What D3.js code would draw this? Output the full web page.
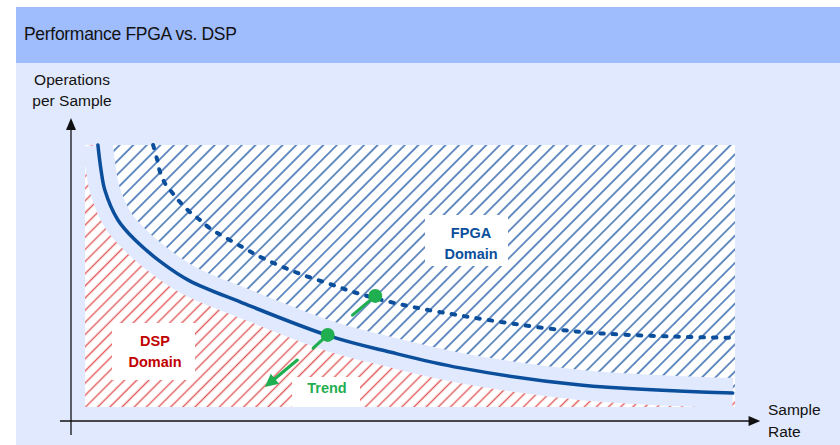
<!DOCTYPE html>
<html>
<head>
<meta charset="utf-8">
<script src="https://cdn.jsdelivr.net/npm/d3@7"></script>
<style>
  html, body { margin: 0; padding: 0; background: #ffffff; }
  svg { display: block; font-family: "Liberation Sans", Arial, sans-serif; }
</style>
</head>
<body>
<div id="chart"></div>
<script>
// Sample rate (x) vs. operations per sample (y), relative units 0..100
const dspLimitRate = [3.9, 4.35, 4.9, 6.8, 9.3, 13.2, 17.2, 24.5, 37.5, 46.2, 56.4, 73.8, 95.9];
const dspLimitOps  = [92, 83.7, 77, 67, 60.3, 52.7, 46.7, 39.7, 28.3, 23, 17.7, 12, 9.3];

const fpgaLimitRate = [11.9, 12.5, 12.9, 13.6, 14.7, 15.9, 17.2, 18.7, 20.1, 24.8, 27.8, 32.9, 38, 40.9, 46.2, 53.5, 73.8, 95.9];
const fpgaLimitOps  = [92, 87, 83, 79.3, 76, 72.7, 69.7, 67, 64.3, 58, 54.3, 49.3, 45.3, 43, 39.7, 36.3, 29.7, 27.7];

// Trend markers: dot on each limit curve with a short stem pointing down-left
const trendDots  = [[44.1, 41.7], [37.2, 28.7]];
const trendStems = [[40.8, 35.3], [35.1, 24.3]];
const trendArrow = [[32.8, 20.3], [28.1, 11.3]];

const titleText = "Performance FPGA vs. DSP";
const yAxisLabel = ["Operations", "per Sample"];
const xAxisLabel = ["Sample", "Rate"];
const fpgaLabel = ["FPGA", "Domain"];
const dspLabel = ["DSP", "Domain"];
const trendLabel = "Trend";

const W = 840, H = 445;
const C = {
  header: "#9fbcfd", body: "#e1e9fe", curve: "#0b4f9c",
  blueHatch: "#4d7bb8", redHatch: "#e35a5a", green: "#1fae50",
  dspText: "#c00000", fpgaText: "#0b4f9c"
};

const svg = d3.select("#chart").append("svg").attr("width", W).attr("height", H);

// Scales
const x = d3.scaleLinear().domain([0, 100]).range([71, 761]);
const y = d3.scaleLinear().domain([0, 100]).range([421, 121]);

// Hatch region bounds (pixel layout)
const R = { x0: 85, x1: 735, y0: 145, y1: 407 };

// Patterns
const defs = svg.append("defs");
function hatch(id, color, gap, width) {
  const p = defs.append("pattern").attr("id", id)
    .attr("width", gap).attr("height", gap)
    .attr("patternUnits", "userSpaceOnUse")
    .attr("patternTransform", "rotate(45)");
  p.append("rect").attr("width", gap).attr("height", gap).attr("fill", "#ffffff");
  p.append("line").attr("x1", gap / 2).attr("x2", gap / 2).attr("y1", -1).attr("y2", gap + 1)
    .attr("stroke", color).attr("stroke-width", width);
}
hatch("hatchBlue", C.blueHatch, 9.6, 1.7);
hatch("hatchRed", C.redHatch, 8.6, 1.4);

// Background panels
svg.append("rect").attr("x", 16).attr("y", 7).attr("width", W - 16).attr("height", 56).attr("fill", C.header);
svg.append("rect").attr("x", 16).attr("y", 63).attr("width", W - 16).attr("height", H - 63).attr("fill", C.body);
svg.append("text").attr("x", 24).attr("y", 40).attr("font-size", 17.5).attr("fill", "#111")
  .attr("letter-spacing", -0.3).text(titleText);

const dspPts = dspLimitRate.map((d, i) => [x(d), y(dspLimitOps[i])]);
const fpgaPts = fpgaLimitRate.map((d, i) => [x(d), y(fpgaLimitOps[i])]);
const lineGen = d3.line().curve(d3.curveCatmullRom.alpha(0.5));

// FPGA domain: region above the DSP limit curve
const curvePath = lineGen(dspPts);
const last = dspPts[dspPts.length - 1];
const first = dspPts[0];
svg.append("path")
  .attr("d", curvePath + `L${R.x1},${last[1]}L${R.x1},${R.y0}L${first[0]},${R.y0}Z`)
  .attr("fill", "url(#hatchBlue)");

// DSP domain: region below the DSP limit curve
svg.append("path")
  .attr("d", `M${R.x0},${R.y0}L${first[0]},${R.y0}` + curvePath.replace(/^M/, "L") +
    `L${R.x1},${last[1]}L${R.x1},${R.y1}L${R.x0},${R.y1}Z`)
  .attr("fill", "url(#hatchRed)");

// Clear band around the DSP limit curve
svg.append("path").attr("d", curvePath).attr("fill", "none")
  .attr("stroke", C.body).attr("stroke-width", 30);

// Labels with white boxes
function boxLabel(lines, cx, b0, lh, color, box) {
  svg.append("rect").attr("x", box[0]).attr("y", box[1]).attr("width", box[2] - box[0])
    .attr("height", box[3] - box[1]).attr("fill", "#ffffff");
  lines.forEach((t, i) => svg.append("text").attr("x", cx).attr("y", b0 + i * lh)
    .attr("text-anchor", "middle").attr("font-size", 14.5).attr("font-weight", "bold")
    .attr("fill", color).text(t));
}
boxLabel(fpgaLabel, 471, 238, 21, C.fpgaText, [425, 215, 508, 266]);
boxLabel(dspLabel, 155, 346, 21, C.dspText, [112, 323, 195, 380]);
boxLabel([trendLabel], 327, 393, 0, C.green, [292, 377, 360, 407]);

// Limit curves
svg.append("path").attr("d", lineGen(fpgaPts)).attr("fill", "none")
  .attr("stroke", C.curve).attr("stroke-width", 4).attr("stroke-linecap", "round")
  .attr("stroke-dasharray", "3.5 9");
svg.append("path").attr("d", curvePath).attr("fill", "none")
  .attr("stroke", C.curve).attr("stroke-width", 3.5).attr("stroke-linecap", "round");

// Trend markers
trendDots.forEach((d, i) => {
  svg.append("line").attr("x1", x(d[0])).attr("y1", y(d[1]))
    .attr("x2", x(trendStems[i][0])).attr("y2", y(trendStems[i][1]))
    .attr("stroke", C.green).attr("stroke-width", 3.2).attr("stroke-linecap", "round");
  svg.append("circle").attr("cx", x(d[0])).attr("cy", y(d[1])).attr("r", 7).attr("fill", C.green);
});
{
  const [a, b] = trendArrow.map(p => [x(p[0]), y(p[1])]);
  const ang = Math.atan2(b[1] - a[1], b[0] - a[0]);
  const L = 13, hw = 6.5;
  const base = [b[0] - L * Math.cos(ang), b[1] - L * Math.sin(ang)];
  svg.append("line").attr("x1", a[0]).attr("y1", a[1]).attr("x2", base[0]).attr("y2", base[1])
    .attr("stroke", C.green).attr("stroke-width", 3.2).attr("stroke-linecap", "round");
  const px = -Math.sin(ang), py = Math.cos(ang);
  svg.append("path").attr("d",
    `M${b[0]},${b[1]}L${base[0] + px * hw},${base[1] + py * hw}L${base[0] - px * hw},${base[1] - py * hw}Z`)
    .attr("fill", C.green);
}

// Axes (plain lines with arrowheads)
const yAxis = d3.axisLeft(y).tickValues([]).tickSizeOuter(0);
const xAxis = d3.axisBottom(x).tickValues([]).tickSizeOuter(0);
svg.append("g").attr("transform", `translate(${x(0)},0)`).call(yAxis)
  .call(g => g.select(".domain").attr("stroke", "#111").attr("stroke-width", 1.3)
    .attr("d", `M0,${y(-4.7)}V${y(99)}`));
svg.append("g").attr("transform", `translate(0,${y(0)})`).call(xAxis)
  .call(g => g.select(".domain").attr("stroke", "#111").attr("stroke-width", 1.3)
    .attr("d", `M${x(-1.6)},0H${x(98.7)}`));
svg.append("path").attr("d", `M${x(0)},${y(101)}L${x(0) - 5},${y(97)}L${x(0) + 5},${y(97)}Z`).attr("fill", "#111");
svg.append("path").attr("d", `M${x(99.9)},${y(0)}L${x(98.2)},${y(0) - 5}L${x(98.2)},${y(0) + 5}Z`).attr("fill", "#111");

// Axis titles
yAxisLabel.forEach((t, i) => svg.append("text").attr("x", 72).attr("y", 85 + i * 21)
  .attr("text-anchor", "middle").attr("font-size", 15.5).attr("fill", "#111").text(t));
xAxisLabel.forEach((t, i) => svg.append("text").attr("x", 768).attr("y", 415 + i * 22)
  .attr("font-size", 15.5).attr("fill", "#111").text(t));
</script>
</body>
</html>
